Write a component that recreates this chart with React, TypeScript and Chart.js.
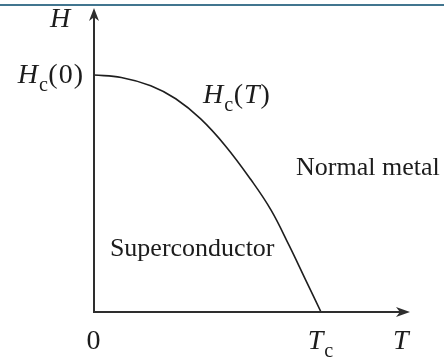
import React, { useEffect, useRef } from "react";
import { Chart, registerables } from "chart.js";

Chart.register(...registerables);

// Critical field curve H_c(T), in units of T_c and H_c(0)
const temperature = [0, 0.12, 0.25, 0.36, 0.47, 0.58, 0.69, 0.78, 0.86, 0.93, 1.0];
const criticalField = [1.0, 0.99, 0.955, 0.9, 0.815, 0.7, 0.56, 0.43, 0.28, 0.14, 0];

// Axis ranges (the arrow tips sit at the maxima)
const tMax = 1.392;
const hMax = 1.283;

// Tick marks and labels ("_" starts a subscript)
const xTickValues = [0, 1];
const xTickLabels = ["0", "T_c"];
const yTickValues = [1];
const yTickLabels = ["H_c(0)"];
const xAxisTitle = "T";
const yAxisTitle = "H";
const curveLabel = "H_c(T)";
const regionLabels = ["Normal metal", "Superconductor"];

const SERIF = '"Liberation Serif", "Times New Roman", "DejaVu Serif", serif';
const INK = "#1c1c1c";

type Seg = { text: string; italic: boolean; sub: boolean };

// Letters are set in italic, digits and brackets upright, "_x" as an upright subscript
function parseMath(src: string): Seg[] {
  const segs: Seg[] = [];
  for (let i = 0; i < src.length; i++) {
    const ch = src[i];
    if (ch === "_") {
      segs.push({ text: src[i + 1], italic: false, sub: true });
      i++;
    } else {
      segs.push({ text: ch, italic: /[A-Za-z]/.test(ch), sub: false });
    }
  }
  return segs;
}

function segAdvance(ctx: CanvasRenderingContext2D, s: Seg, size: number) {
  const fs = s.sub ? size * 0.72 : size;
  ctx.font = `${s.italic ? "italic " : ""}${fs}px ${SERIF}`;
  return ctx.measureText(s.text).width + (s.sub ? 0.5 : 1);
}

function mathWidth(ctx: CanvasRenderingContext2D, src: string, size: number) {
  return parseMath(src).reduce((w, s) => w + segAdvance(ctx, s, size), 0);
}

function drawMath(ctx: CanvasRenderingContext2D, src: string, x: number, y: number, size: number) {
  let cx = x;
  ctx.textBaseline = "alphabetic";
  ctx.textAlign = "left";
  for (const s of parseMath(src)) {
    const adv = segAdvance(ctx, s, size);
    ctx.fillText(s.text, cx, s.sub ? y + size * 0.28 : y);
    cx += adv;
  }
}

function arrowHead(ctx: CanvasRenderingContext2D, tx: number, ty: number, dx: number, dy: number, len: number, half: number) {
  const px = -dy;
  const py = dx;
  ctx.beginPath();
  ctx.moveTo(tx, ty);
  ctx.lineTo(tx - dx * len + px * half, ty - dy * len + py * half);
  ctx.lineTo(tx - dx * len * 0.72, ty - dy * len * 0.72);
  ctx.lineTo(tx - dx * len - px * half, ty - dy * len - py * half);
  ctx.closePath();
  ctx.fill();
}

const phasePlugin = {
  id: "phaseDiagram",
  beforeDraw(chart: any) {
    const ctx: CanvasRenderingContext2D = chart.ctx;
    ctx.save();
    ctx.fillStyle = "#ffffff";
    ctx.fillRect(0, 0, chart.width, chart.height);
    // header rule
    ctx.fillStyle = "#41758f";
    ctx.fillRect(0, 4, chart.width, 2);
    ctx.restore();
  },
  afterDraw(chart: any) {
    const ctx: CanvasRenderingContext2D = chart.ctx;
    const xs = chart.scales.x;
    const ys = chart.scales.y;
    const x0 = xs.getPixelForValue(0);
    const y0 = ys.getPixelForValue(0);
    const xEnd = xs.getPixelForValue(tMax);
    const yEnd = ys.getPixelForValue(hMax);

    ctx.save();
    ctx.strokeStyle = "#2e2e2e";
    ctx.fillStyle = "#2e2e2e";
    ctx.lineWidth = 2;
    ctx.beginPath();
    ctx.moveTo(x0, yEnd + 6);
    ctx.lineTo(x0, y0);
    ctx.lineTo(xEnd - 6, y0);
    ctx.stroke();
    arrowHead(ctx, x0, yEnd, 0, -1, 13, 5);
    arrowHead(ctx, xEnd, y0, 1, 0, 14, 5);

    ctx.fillStyle = INK;
    const mathSize = 28;
    // x ticks
    xTickValues.forEach((v, i) => {
      const px = xs.getPixelForValue(v);
      const lbl = xTickLabels[i];
      const hasSub = lbl.includes("_");
      const w = mathWidth(ctx, hasSub ? lbl.split("_")[0] : lbl, mathSize);
      drawMath(ctx, lbl, px - w / 2 - (hasSub ? 5 : 0), y0 + 37, mathSize);
    });
    // y ticks
    yTickValues.forEach((v, i) => {
      const py = ys.getPixelForValue(v);
      const lbl = yTickLabels[i];
      const w = mathWidth(ctx, lbl, mathSize);
      drawMath(ctx, lbl, x0 - 10 - w, py + 8, mathSize);
    });
    // axis titles
    drawMath(ctx, xAxisTitle, xEnd - 17, y0 + 37, mathSize);
    drawMath(ctx, yAxisTitle, x0 - 44, yEnd + 19, mathSize);
    // curve label
    drawMath(ctx, curveLabel, xs.getPixelForValue(0.48), ys.getPixelForValue(0.88), mathSize);
    // region labels
    ctx.font = `26px ${SERIF}`;
    ctx.textAlign = "left";
    ctx.textBaseline = "alphabetic";
    ctx.fillText(regionLabels[0], xs.getPixelForValue(0.89), ys.getPixelForValue(0.58));
    ctx.fillText(regionLabels[1], xs.getPixelForValue(0.07), ys.getPixelForValue(0.236));
    ctx.restore();
  },
};

export default function App() {
  const ref = useRef<HTMLCanvasElement | null>(null);

  useEffect(() => {
    if (!ref.current) return;
    const chart = new Chart(ref.current, {
      type: "line",
      data: {
        datasets: [
          {
            data: temperature.map((t, i) => ({ x: t, y: criticalField[i] })),
            borderColor: "#1e1e1e",
            borderWidth: 1.6,
            pointRadius: 0,
            tension: 0.4,
            fill: false,
          },
        ],
      },
      options: {
        responsive: false,
        animation: false,
        events: [],
        layout: { padding: { left: 94, right: 34, top: 8, bottom: 46 } },
        plugins: { legend: { display: false }, tooltip: { enabled: false } },
        scales: {
          x: { type: "linear", min: 0, max: tMax, display: false },
          y: { type: "linear", min: 0, max: hMax, display: false },
        },
      },
      plugins: [phasePlugin],
    });
    return () => chart.destroy();
  }, []);

  return (
    <div style={{ position: "fixed", left: 0, top: 0, width: 444, height: 358, background: "#fff" }}>
      <canvas ref={ref} width={444} height={358} style={{ display: "block" }} />
    </div>
  );
}
